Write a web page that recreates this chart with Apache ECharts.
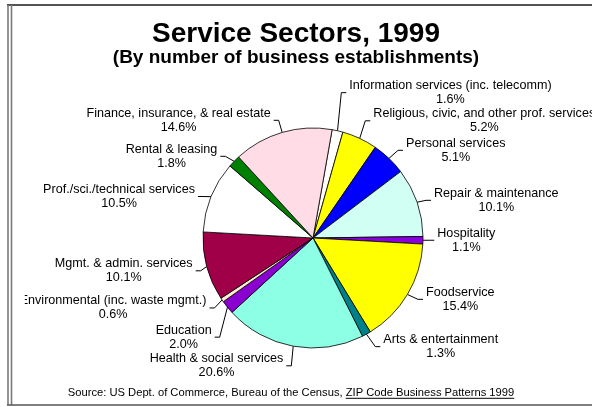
<!DOCTYPE html>
<html><head><meta charset="utf-8">
<script src="https://cdn.jsdelivr.net/npm/echarts/dist/echarts.min.js"></script>
<style>html,body{margin:0;padding:0;background:#fff}#c{width:592px;height:407px}</style>
</head><body><div id="c"></div>
<script>
// ---- data ----
const categories = [
  'Information services (inc. telecomm)',
  'Religious, civic, and other prof. services',
  'Personal services',
  'Repair & maintenance',
  'Hospitality',
  'Foodservice',
  'Arts & entertainment',
  'Health & social services',
  'Education',
  'Environmental (inc. waste mgmt.)',
  'Mgmt. & admin. services',
  'Prof./sci./technical services',
  'Rental & leasing',
  'Finance, insurance, & real estate'
];
const shares = [1.6, 5.2, 5.1, 10.1, 1.1, 15.4, 1.3, 20.6, 2.0, 0.6, 10.1, 10.5, 1.8, 14.6];
const titleText = 'Service Sectors, 1999';
const subtitleText = '(By number of business establishments)';
const sourcePrefix = 'Source: US Dept. of Commerce, Bureau of the Census, ';
const sourceLink = 'ZIP Code Business Patterns 1999';

// ---- styles ----
const sliceColors = ['#ffffff', '#ffff00', '#0000ff', '#d2fff3', '#8800dd', '#ffff00', '#008088',
  '#8cffe4', '#8a00d0', '#ffeed0', '#a00048', '#ffffff', '#008000', '#ffdce6'];
// label anchor offset relative to the leader start point on the pie edge
const labelOffsets = [[11.8, -38.1], [13.6, -17.6], [17.1, -8.1], [17, -1.9], [14.3, 0], [18.6, 4.9],
  [16.9, 12.5], [-9.9, 19.6], [-15.8, 30], [-15.6, 8], [-14.1, 4.3], [-16.1, -0.2], [-16.8, -5], [-11.5, -12.1]];
const FONT = 'Arial, "Liberation Sans", sans-serif';
const SRC_FONT_SIZE = 11.2;

const chart = echarts.init(document.getElementById('c'), null, {renderer: 'canvas'});

const ctx = document.createElement('canvas').getContext('2d');
ctx.font = SRC_FONT_SIZE + 'px ' + FONT;
const w1 = ctx.measureText(sourcePrefix).width;
const w2 = ctx.measureText(sourceLink).width;
const srcCx = 291, srcY = 393.3;
const srcX0 = srcCx - (w1 + w2) / 2;

const data = categories.map((n, i) => ({name: n, value: shares[i], itemStyle: {color: sliceColors[i]}}));

chart.setOption({
  animation: false,
  backgroundColor: '#fff',
  series: [{
    type: 'pie',
    left: -300, right: -300, top: 0, bottom: 0,
    center: [313 + 300, 238],
    radius: 110,
    startAngle: 80,
    clockwise: true,
    avoidLabelOverlap: false,
    emphasis: {disabled: true},
    itemStyle: {borderColor: '#000', borderWidth: 0.8},
    label: {
      show: true,
      position: 'outside',
      overflow: 'none',
      formatter: p => '{t|' + p.name + '}\n{t|' + p.value.toFixed(1) + '%}',
      rich: {t: {align: 'center', fontSize: 12.6, lineHeight: 14, color: '#000', fontFamily: FONT}}
    },
    labelLine: {show: true, lineStyle: {color: '#000', width: 1}},
    labelLayout: function (p) {
      const i = p.dataIndex;
      const p0 = [p.labelLinePoints[0][0], p.labelLinePoints[0][1]];
      const off = labelOffsets[i];
      const x = p0[0] + off[0], y = p0[1] + off[1];
      const right = off[0] > 0;
      const endX = right ? x - 3 : x + 3;
      let turnX = right ? endX - 5 : endX + 5;
      if (right ? turnX < p0[0] : turnX > p0[0]) turnX = p0[0];
      return {x: x, y: y, align: right ? 'left' : 'right', verticalAlign: 'middle',
        labelLinePoints: [p0, [turnX, y], [endX, y]]};
    },
    data: data
  }],
  graphic: [
    {type: 'rect', z: 100, silent: true, shape: {x: 12.5, y: 6, width: 12.3, height: 398}, style: {fill: '#fff'}},
    {type: 'line', z: 101, silent: true, shape: {x1: 7, y1: 5, x2: 592, y2: 5}, style: {stroke: '#1a1a1a', lineWidth: 1.5}},
    {type: 'line', z: 101, silent: true, shape: {x1: 8, y1: 5, x2: 8, y2: 405}, style: {stroke: '#7a7a7a', lineWidth: 1.6}},
    {type: 'line', z: 101, silent: true, shape: {x1: 11.5, y1: 5, x2: 11.5, y2: 405}, style: {stroke: '#7a7a7a', lineWidth: 1.6}},
    {type: 'line', z: 101, silent: true, shape: {x1: 7, y1: 405, x2: 592, y2: 405}, style: {stroke: '#555', lineWidth: 1.5}},
    {type: 'text', z: 101, silent: true, x: 296, y: 34, style: {text: titleText, fill: '#000', font: 'bold 28px ' + FONT, textAlign: 'center', textVerticalAlign: 'middle'}},
    {type: 'text', z: 101, silent: true, x: 296, y: 58, style: {text: subtitleText, fill: '#000', font: 'bold 19px ' + FONT, textAlign: 'center', textVerticalAlign: 'middle'}},
    {type: 'text', z: 101, silent: true, x: srcX0, y: srcY, style: {text: sourcePrefix, fill: '#000', font: SRC_FONT_SIZE + 'px ' + FONT, textAlign: 'left', textVerticalAlign: 'middle'}},
    {type: 'text', z: 101, silent: true, x: srcX0 + w1, y: srcY, style: {text: sourceLink, fill: '#000', font: SRC_FONT_SIZE + 'px ' + FONT, textAlign: 'left', textVerticalAlign: 'middle'}},
    {type: 'line', z: 101, silent: true, shape: {x1: srcX0 + w1, y1: srcY + 5, x2: srcX0 + w1 + w2, y2: srcY + 5}, style: {stroke: '#000', lineWidth: 1}}
  ]
});
</script></body></html>
